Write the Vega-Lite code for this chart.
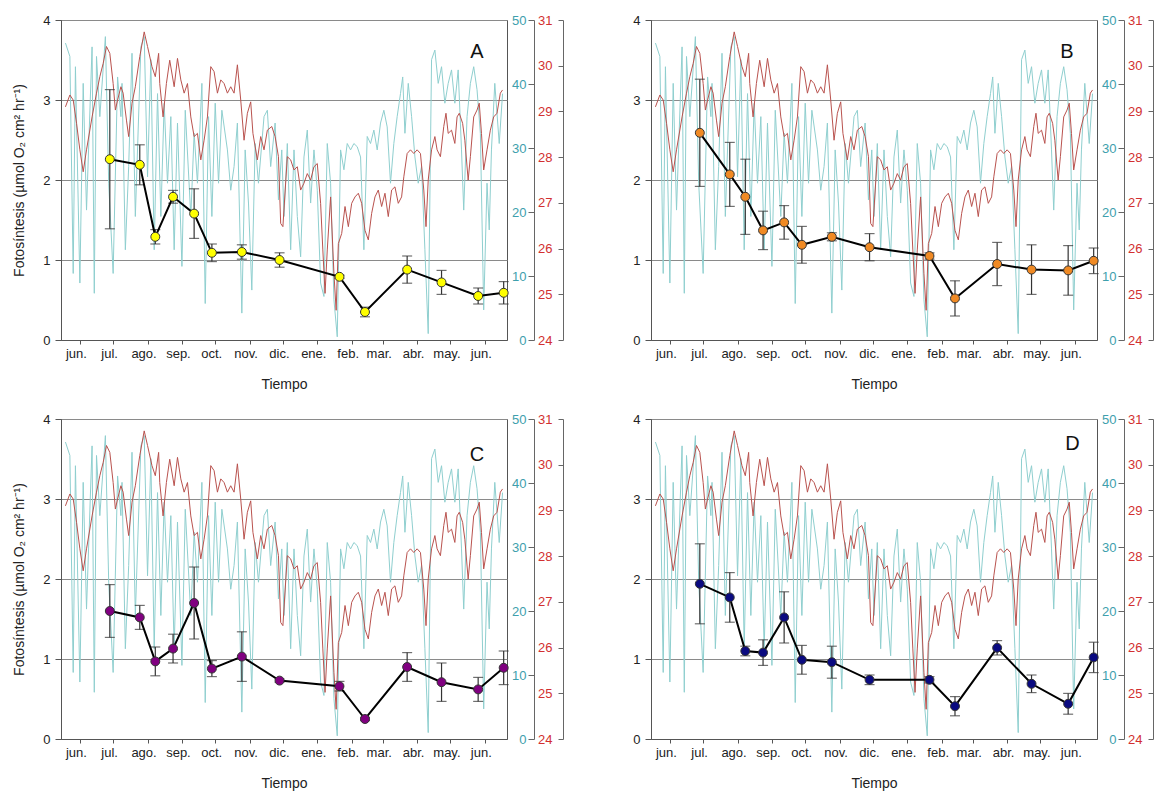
{
"$schema": "https://vega.github.io/schema/vega-lite/v6.json",
"padding": {"left": 12, "top": 13, "right": 0, "bottom": 0},
"config": {
  "font": "Liberation Sans",
  "view": {"stroke": "#555555", "strokeWidth": 1},
  "axis": {"labelFontSize": 13, "titleFontSize": 14, "titleFontWeight": "normal", "labelColor": "#222222", "titleColor": "#222222", "domainColor": "#555555", "tickColor": "#555555"}
},
"datasets": {
"luz": [
{"fecha":"2012-05-19","luz":46.4},{"fecha":"2012-05-23","luz":44.3},{"fecha":"2012-05-26","luz":10.4},{"fecha":"2012-05-28","luz":42.7},{"fecha":"2012-06-01","luz":8.9},{"fecha":"2012-06-04","luz":40.1},{"fecha":"2012-06-07","luz":20.3},{"fecha":"2012-06-12","luz":45.8},{"fecha":"2012-06-14","luz":7.3},{"fecha":"2012-06-16","luz":44.3},{"fecha":"2012-06-19","luz":34.9},{"fecha":"2012-06-24","luz":47.4},{"fecha":"2012-06-27","luz":24.5},{"fecha":"2012-07-01","luz":10.4},{"fecha":"2012-07-05","luz":41.1},{"fecha":"2012-07-08","luz":34.9},{"fecha":"2012-07-09","luz":40.1},{"fecha":"2012-07-12","luz":14.1},{"fecha":"2012-07-15","luz":27.1},{"fecha":"2012-07-18","luz":44.8},{"fecha":"2012-07-21","luz":19.3},{"fecha":"2012-07-26","luz":45.8},{"fecha":"2012-07-29","luz":47.4},{"fecha":"2012-08-01","luz":25.5},{"fecha":"2012-08-04","luz":43.8},{"fecha":"2012-08-07","luz":14.1},{"fecha":"2012-08-10","luz":38.5},{"fecha":"2012-08-13","luz":19.3},{"fecha":"2012-08-16","luz":37.0},{"fecha":"2012-08-19","luz":24.5},{"fecha":"2012-08-22","luz":34.9},{"fecha":"2012-08-25","luz":14.1},{"fecha":"2012-08-28","luz":33.9},{"fecha":"2012-09-01","luz":11.5},{"fecha":"2012-09-04","luz":35.9},{"fecha":"2012-09-09","luz":19.3},{"fecha":"2012-09-12","luz":32.3},{"fecha":"2012-09-15","luz":24.5},{"fecha":"2012-09-19","luz":40.1},{"fecha":"2012-09-22","luz":5.7},{"fecha":"2012-09-25","luz":34.9},{"fecha":"2012-09-28","luz":19.3},{"fecha":"2012-10-01","luz":37.0},{"fecha":"2012-10-04","luz":24.5},{"fecha":"2012-10-07","luz":35.9},{"fecha":"2012-10-12","luz":29.7},{"fecha":"2012-10-15","luz":23.4},{"fecha":"2012-10-18","luz":27.1},{"fecha":"2012-10-21","luz":33.9},{"fecha":"2012-10-25","luz":4.2},{"fecha":"2012-10-28","luz":29.7},{"fecha":"2012-10-31","luz":21.4},{"fecha":"2012-11-03","luz":7.8},{"fecha":"2012-11-06","luz":30.7},{"fecha":"2012-11-09","luz":24.5},{"fecha":"2012-11-14","luz":34.9},{"fecha":"2012-11-17","luz":35.9},{"fecha":"2012-11-20","luz":27.1},{"fecha":"2012-11-24","luz":33.9},{"fecha":"2012-11-27","luz":21.9},{"fecha":"2012-11-30","luz":29.7},{"fecha":"2012-12-02","luz":19.3},{"fecha":"2012-12-05","luz":30.7},{"fecha":"2012-12-08","luz":14.1},{"fecha":"2012-12-11","luz":29.7},{"fecha":"2012-12-14","luz":19.3},{"fecha":"2012-12-17","luz":13.0},{"fecha":"2012-12-20","luz":28.6},{"fecha":"2012-12-23","luz":32.8},{"fecha":"2012-12-26","luz":21.4},{"fecha":"2012-12-29","luz":29.7},{"fecha":"2013-01-01","luz":23.4},{"fecha":"2013-01-04","luz":8.9},{"fecha":"2013-01-07","luz":6.8},{"fecha":"2013-01-10","luz":30.7},{"fecha":"2013-01-13","luz":24.5},{"fecha":"2013-01-16","luz":6.3},{"fecha":"2013-01-19","luz":0.5},{"fecha":"2013-01-22","luz":29.7},{"fecha":"2013-01-25","luz":26.6},{"fecha":"2013-01-28","luz":30.7},{"fecha":"2013-01-31","luz":29.7},{"fecha":"2013-02-03","luz":30.7},{"fecha":"2013-02-06","luz":30.2},{"fecha":"2013-02-09","luz":28.6},{"fecha":"2013-02-12","luz":14.1},{"fecha":"2013-02-15","luz":31.8},{"fecha":"2013-02-18","luz":30.7},{"fecha":"2013-02-21","luz":32.8},{"fecha":"2013-02-24","luz":29.7},{"fecha":"2013-02-27","luz":33.9},{"fecha":"2013-03-02","luz":35.9},{"fecha":"2013-03-05","luz":33.3},{"fecha":"2013-03-08","luz":24.5},{"fecha":"2013-03-11","luz":30.7},{"fecha":"2013-03-14","luz":34.9},{"fecha":"2013-03-17","luz":38.5},{"fecha":"2013-03-19","luz":41.1},{"fecha":"2013-03-21","luz":32.3},{"fecha":"2013-03-24","luz":40.1},{"fecha":"2013-03-27","luz":34.9},{"fecha":"2013-03-30","luz":28.6},{"fecha":"2013-04-02","luz":24.5},{"fecha":"2013-04-05","luz":27.1},{"fecha":"2013-04-08","luz":14.1},{"fecha":"2013-04-11","luz":1.0},{"fecha":"2013-04-14","luz":43.8},{"fecha":"2013-04-17","luz":45.3},{"fecha":"2013-04-20","luz":40.1},{"fecha":"2013-04-23","luz":42.7},{"fecha":"2013-04-26","luz":37.0},{"fecha":"2013-04-29","luz":40.1},{"fecha":"2013-05-02","luz":42.2},{"fecha":"2013-05-05","luz":37.0},{"fecha":"2013-05-08","luz":42.2},{"fecha":"2013-05-11","luz":29.7},{"fecha":"2013-05-13","luz":20.3},{"fecha":"2013-05-16","luz":34.9},{"fecha":"2013-05-19","luz":40.1},{"fecha":"2013-05-22","luz":42.7},{"fecha":"2013-05-25","luz":39.1},{"fecha":"2013-05-28","luz":32.3},{"fecha":"2013-05-31","luz":4.7},{"fecha":"2013-06-03","luz":24.5},{"fecha":"2013-06-05","luz":17.2},{"fecha":"2013-06-07","luz":29.7},{"fecha":"2013-06-10","luz":40.1},{"fecha":"2013-06-14","luz":30.7},{"fecha":"2013-06-17","luz":38.5}
],
"temperatura": [
{"fecha":"2012-05-19","temperatura":29.10},{"fecha":"2012-05-23","temperatura":29.36},{"fecha":"2012-05-26","temperatura":29.25},{"fecha":"2012-05-29","temperatura":28.74},{"fecha":"2012-06-01","temperatura":28.16},{"fecha":"2012-06-04","temperatura":27.68},{"fecha":"2012-06-07","temperatura":28.16},{"fecha":"2012-06-12","temperatura":28.88},{"fecha":"2012-06-16","temperatura":29.40},{"fecha":"2012-06-19","temperatura":29.76},{"fecha":"2012-06-22","temperatura":30.05},{"fecha":"2012-06-25","temperatura":30.42},{"fecha":"2012-06-28","temperatura":30.27},{"fecha":"2012-07-01","temperatura":29.61},{"fecha":"2012-07-03","temperatura":29.03},{"fecha":"2012-07-05","temperatura":29.25},{"fecha":"2012-07-08","temperatura":29.54},{"fecha":"2012-07-10","temperatura":29.40},{"fecha":"2012-07-13","temperatura":28.81},{"fecha":"2012-07-15","temperatura":28.45},{"fecha":"2012-07-18","temperatura":29.18},{"fecha":"2012-07-21","temperatura":29.54},{"fecha":"2012-07-25","temperatura":30.20},{"fecha":"2012-07-29","temperatura":30.74},{"fecha":"2012-08-01","temperatura":30.42},{"fecha":"2012-08-05","temperatura":29.98},{"fecha":"2012-08-08","temperatura":29.76},{"fecha":"2012-08-11","temperatura":30.27},{"fecha":"2012-08-12","temperatura":29.61},{"fecha":"2012-08-15","temperatura":28.88},{"fecha":"2012-08-18","temperatura":29.61},{"fecha":"2012-08-21","temperatura":30.12},{"fecha":"2012-08-25","temperatura":29.54},{"fecha":"2012-08-28","temperatura":30.16},{"fecha":"2012-08-31","temperatura":29.69},{"fecha":"2012-09-03","temperatura":29.40},{"fecha":"2012-09-06","temperatura":29.61},{"fecha":"2012-09-09","temperatura":28.88},{"fecha":"2012-09-12","temperatura":28.45},{"fecha":"2012-09-15","temperatura":28.52},{"fecha":"2012-09-18","temperatura":27.94},{"fecha":"2012-09-21","temperatura":28.37},{"fecha":"2012-09-24","temperatura":28.88},{"fecha":"2012-09-27","temperatura":29.98},{"fecha":"2012-09-30","temperatura":29.87},{"fecha":"2012-10-03","temperatura":29.40},{"fecha":"2012-10-06","temperatura":29.69},{"fecha":"2012-10-09","temperatura":29.61},{"fecha":"2012-10-12","temperatura":29.40},{"fecha":"2012-10-15","temperatura":29.54},{"fecha":"2012-10-18","temperatura":29.40},{"fecha":"2012-10-21","temperatura":30.02},{"fecha":"2012-10-24","temperatura":29.25},{"fecha":"2012-10-27","temperatura":28.37},{"fecha":"2012-10-30","temperatura":28.96},{"fecha":"2012-11-02","temperatura":29.21},{"fecha":"2012-11-04","temperatura":28.52},{"fecha":"2012-11-08","temperatura":27.94},{"fecha":"2012-11-11","temperatura":28.45},{"fecha":"2012-11-14","temperatura":28.16},{"fecha":"2012-11-17","temperatura":28.59},{"fecha":"2012-11-21","temperatura":28.67},{"fecha":"2012-11-24","temperatura":28.45},{"fecha":"2012-11-27","temperatura":28.01},{"fecha":"2012-11-29","temperatura":26.55},{"fecha":"2012-12-01","temperatura":26.48},{"fecha":"2012-12-05","temperatura":28.01},{"fecha":"2012-12-08","temperatura":27.94},{"fecha":"2012-12-11","temperatura":27.72},{"fecha":"2012-12-14","temperatura":27.79},{"fecha":"2012-12-17","temperatura":27.28},{"fecha":"2012-12-20","temperatura":27.43},{"fecha":"2012-12-23","temperatura":27.64},{"fecha":"2012-12-26","temperatura":27.50},{"fecha":"2012-12-29","temperatura":27.79},{"fecha":"2013-01-01","temperatura":27.86},{"fecha":"2013-01-04","temperatura":26.99},{"fecha":"2013-01-06","temperatura":25.97},{"fecha":"2013-01-08","temperatura":25.02},{"fecha":"2013-01-10","temperatura":25.97},{"fecha":"2013-01-13","temperatura":27.13},{"fecha":"2013-01-16","temperatura":25.46},{"fecha":"2013-01-18","temperatura":24.65},{"fecha":"2013-01-20","temperatura":26.11},{"fecha":"2013-01-23","temperatura":26.33},{"fecha":"2013-01-26","temperatura":26.92},{"fecha":"2013-01-29","temperatura":26.48},{"fecha":"2013-02-01","temperatura":26.99},{"fecha":"2013-02-04","temperatura":27.13},{"fecha":"2013-02-07","temperatura":27.21},{"fecha":"2013-02-10","temperatura":26.99},{"fecha":"2013-02-13","temperatura":26.40},{"fecha":"2013-02-16","temperatura":26.19},{"fecha":"2013-02-19","temperatura":26.77},{"fecha":"2013-02-22","temperatura":27.13},{"fecha":"2013-02-25","temperatura":27.28},{"fecha":"2013-02-28","temperatura":26.92},{"fecha":"2013-03-03","temperatura":27.21},{"fecha":"2013-03-06","temperatura":26.70},{"fecha":"2013-03-09","temperatura":27.28},{"fecha":"2013-03-12","temperatura":27.35},{"fecha":"2013-03-15","temperatura":26.99},{"fecha":"2013-03-18","temperatura":27.13},{"fecha":"2013-03-20","temperatura":27.57},{"fecha":"2013-03-23","temperatura":28.08},{"fecha":"2013-03-26","temperatura":28.16},{"fecha":"2013-03-29","temperatura":28.08},{"fecha":"2013-04-01","temperatura":28.16},{"fecha":"2013-04-04","temperatura":28.08},{"fecha":"2013-04-07","temperatura":27.28},{"fecha":"2013-04-09","temperatura":26.48},{"fecha":"2013-04-11","temperatura":27.50},{"fecha":"2013-04-14","temperatura":28.16},{"fecha":"2013-04-17","temperatura":28.45},{"fecha":"2013-04-19","temperatura":28.16},{"fecha":"2013-04-22","temperatura":28.01},{"fecha":"2013-04-25","temperatura":28.67},{"fecha":"2013-04-27","temperatura":28.96},{"fecha":"2013-04-29","temperatura":28.52},{"fecha":"2013-05-02","temperatura":28.59},{"fecha":"2013-05-05","temperatura":28.30},{"fecha":"2013-05-07","temperatura":28.88},{"fecha":"2013-05-09","temperatura":28.96},{"fecha":"2013-05-12","temperatura":28.74},{"fecha":"2013-05-14","temperatura":28.37},{"fecha":"2013-05-17","temperatura":27.50},{"fecha":"2013-05-19","temperatura":28.01},{"fecha":"2013-05-22","temperatura":28.88},{"fecha":"2013-05-25","temperatura":29.03},{"fecha":"2013-05-27","temperatura":29.18},{"fecha":"2013-05-29","temperatura":28.52},{"fecha":"2013-05-31","temperatura":27.72},{"fecha":"2013-06-03","temperatura":28.16},{"fecha":"2013-06-06","temperatura":28.59},{"fecha":"2013-06-09","temperatura":28.88},{"fecha":"2013-06-12","temperatura":28.96},{"fecha":"2013-06-15","temperatura":29.40},{"fecha":"2013-06-17","temperatura":29.47}
],
"fotosintesis": [
{"panel":"A","fecha":"2012-06-28","media":2.26,"de":0.87},{"panel":"A","fecha":"2012-07-25","media":2.19,"de":0.25},{"panel":"A","fecha":"2012-08-08","media":1.29,"de":0.09},{"panel":"A","fecha":"2012-08-24","media":1.79,"de":0.08},{"panel":"A","fecha":"2012-09-12","media":1.58,"de":0.31},{"panel":"A","fecha":"2012-09-28","media":1.09,"de":0.11},{"panel":"A","fecha":"2012-10-25","media":1.10,"de":0.09},{"panel":"A","fecha":"2012-11-28","media":1.00,"de":0.09},{"panel":"A","fecha":"2013-01-21","media":0.79,"de":0.02},{"panel":"A","fecha":"2013-02-13","media":0.35,"de":0.06},{"panel":"A","fecha":"2013-03-23","media":0.88,"de":0.17},{"panel":"A","fecha":"2013-04-23","media":0.72,"de":0.15},{"panel":"A","fecha":"2013-05-26","media":0.55,"de":0.10},{"panel":"A","fecha":"2013-06-18","media":0.59,"de":0.14},
{"panel":"B","fecha":"2012-06-28","media":2.59,"de":0.67},{"panel":"B","fecha":"2012-07-25","media":2.07,"de":0.40},{"panel":"B","fecha":"2012-08-08","media":1.79,"de":0.47},{"panel":"B","fecha":"2012-08-24","media":1.37,"de":0.24},{"panel":"B","fecha":"2012-09-12","media":1.47,"de":0.21},{"panel":"B","fecha":"2012-09-28","media":1.19,"de":0.23},{"panel":"B","fecha":"2012-10-25","media":1.29,"de":0.05},{"panel":"B","fecha":"2012-11-28","media":1.16,"de":0.17},{"panel":"B","fecha":"2013-01-21","media":1.05,"de":0.04},{"panel":"B","fecha":"2013-02-13","media":0.52,"de":0.22},{"panel":"B","fecha":"2013-03-23","media":0.95,"de":0.27},{"panel":"B","fecha":"2013-04-23","media":0.88,"de":0.31},{"panel":"B","fecha":"2013-05-26","media":0.87,"de":0.31},{"panel":"B","fecha":"2013-06-18","media":0.99,"de":0.16},
{"panel":"C","fecha":"2012-06-28","media":1.60,"de":0.33},{"panel":"C","fecha":"2012-07-25","media":1.52,"de":0.15},{"panel":"C","fecha":"2012-08-08","media":0.97,"de":0.18},{"panel":"C","fecha":"2012-08-24","media":1.13,"de":0.18},{"panel":"C","fecha":"2012-09-12","media":1.70,"de":0.45},{"panel":"C","fecha":"2012-09-28","media":0.88,"de":0.10},{"panel":"C","fecha":"2012-10-25","media":1.03,"de":0.31},{"panel":"C","fecha":"2012-11-28","media":0.73,"de":0.02},{"panel":"C","fecha":"2013-01-21","media":0.66,"de":0.06},{"panel":"C","fecha":"2013-02-13","media":0.25,"de":0.02},{"panel":"C","fecha":"2013-03-23","media":0.90,"de":0.18},{"panel":"C","fecha":"2013-04-23","media":0.71,"de":0.24},{"panel":"C","fecha":"2013-05-26","media":0.62,"de":0.15},{"panel":"C","fecha":"2013-06-18","media":0.89,"de":0.21},
{"panel":"D","fecha":"2012-06-28","media":1.94,"de":0.50},{"panel":"D","fecha":"2012-07-25","media":1.77,"de":0.31},{"panel":"D","fecha":"2012-08-08","media":1.10,"de":0.06},{"panel":"D","fecha":"2012-08-24","media":1.08,"de":0.16},{"panel":"D","fecha":"2012-09-12","media":1.52,"de":0.32},{"panel":"D","fecha":"2012-09-28","media":0.99,"de":0.18},{"panel":"D","fecha":"2012-10-25","media":0.96,"de":0.20},{"panel":"D","fecha":"2012-11-28","media":0.74,"de":0.06},{"panel":"D","fecha":"2013-01-21","media":0.74,"de":0.04},{"panel":"D","fecha":"2013-02-13","media":0.41,"de":0.12},{"panel":"D","fecha":"2013-03-23","media":1.14,"de":0.09},{"panel":"D","fecha":"2013-04-23","media":0.69,"de":0.11},{"panel":"D","fecha":"2013-05-26","media":0.44,"de":0.13},{"panel":"D","fecha":"2013-06-18","media":1.02,"de":0.19}
]
},
"columns": 2,
"spacing": {"row": 79, "column": 144},
"bounds": "flush",
"concat": [
{
 "width": 446, "height": 320,
 "resolve": {"scale": {"y": "independent"}, "axis": {"y": "independent"}},
 "layer": [
  {"data": {"name": "luz"}, "mark": {"type": "line", "color": "#8fcfcf", "strokeWidth": 1},
   "encoding": {
    "x": {"field": "fecha", "type": "temporal", "scale": {"domain": ["2012-05-15", "2013-06-21"]},
          "axis": {"title": "Tiempo", "tickCount": {"interval": "month", "step": 1}, "labelExpr": "['ene.','feb.','mar.','abr.','may.','jun.','jul.','ago.','sep.','oct.','nov.','dic.'][month(datum.value)]", "tickSize": 4, "labelPadding": 3, "labelOffset": -4, "titlePadding": 17, "grid": false, "labelOverlap": false, "labelFlush": false}},
    "y": {"field": "luz", "type": "quantitative", "scale": {"domain": [0, 50]},
          "axis": {"orient": "right", "offset": 27, "values": [0, 10, 20, 30, 40, 50], "tickSize": -6, "labelPadding": -2, "labelAlign": "right", "labelColor": "#3ea0ad", "title": null, "grid": false, "domainColor": "#666666", "tickColor": "#666666"}}}},
  {"data": {"name": "temperatura"}, "mark": {"type": "line", "color": "#b9524e", "strokeWidth": 1},
   "encoding": {
    "x": {"field": "fecha", "type": "temporal", "scale": {"domain": ["2012-05-15", "2013-06-21"]}},
    "y": {"field": "temperatura", "type": "quantitative", "scale": {"domain": [24, 31]},
          "axis": {"orient": "right", "offset": 56, "values": [24, 25, 26, 27, 28, 29, 30, 31], "tickSize": -5, "labelPadding": -6, "labelAlign": "right", "labelColor": "#d23030", "title": null, "grid": false, "domainColor": "#666666", "tickColor": "#666666"}}}},
  {"data": {"name": "fotosintesis"}, "transform": [{"filter": "datum.panel === 'A'"}],
   "encoding": {"x": {"field": "fecha", "type": "temporal", "scale": {"domain": ["2012-05-15", "2013-06-21"]}}},
   "layer": [
    {"mark": {"type": "errorbar", "ticks": true, "size": 10, "thickness": 1.2, "color": "#333333"},
     "encoding": {"y": {"field": "media", "type": "quantitative", "scale": {"domain": [0, 4]}, "axis": {"title": "Fotosíntesis (µmol O₂ cm² hr⁻¹)", "values": [0, 1, 2, 3, 4], "format": "d", "grid": true, "gridColor": "#8a8a8a", "tickSize": 6, "labelPadding": 5, "titlePadding": 16}}, "yError": {"field": "de"}}},
    {"mark": {"type": "line", "color": "#000000", "strokeWidth": 2},
     "encoding": {"y": {"field": "media", "type": "quantitative"}}},
    {"mark": {"type": "point", "shape": "circle", "filled": true, "size": 80, "fill": "#ffff00", "stroke": "#333333", "strokeWidth": 1, "opacity": 1},
     "encoding": {"y": {"field": "media", "type": "quantitative"}}}
   ]},
  {"data": {"values": [{"panel": "A"}]},
   "mark": {"type": "text", "fontSize": 20, "color": "#111111"},
   "encoding": {"x": {"datum": {"year": 2013, "month": "may", "date": 25}, "type": "temporal"}, "y": {"datum": 3.6, "type": "quantitative", "scale": {"domain": [0, 4]}, "axis": null}, "text": {"field": "panel"}}}
 ]
},
{
 "width": 446, "height": 320,
 "resolve": {"scale": {"y": "independent"}, "axis": {"y": "independent"}},
 "layer": [
  {"data": {"name": "luz"}, "mark": {"type": "line", "color": "#8fcfcf", "strokeWidth": 1},
   "encoding": {
    "x": {"field": "fecha", "type": "temporal", "scale": {"domain": ["2012-05-15", "2013-06-21"]},
          "axis": {"title": "Tiempo", "tickCount": {"interval": "month", "step": 1}, "labelExpr": "['ene.','feb.','mar.','abr.','may.','jun.','jul.','ago.','sep.','oct.','nov.','dic.'][month(datum.value)]", "tickSize": 4, "labelPadding": 3, "labelOffset": -4, "titlePadding": 17, "grid": false, "labelOverlap": false, "labelFlush": false}},
    "y": {"field": "luz", "type": "quantitative", "scale": {"domain": [0, 50]},
          "axis": {"orient": "right", "offset": 27, "values": [0, 10, 20, 30, 40, 50], "tickSize": -6, "labelPadding": -2, "labelAlign": "right", "labelColor": "#3ea0ad", "title": null, "grid": false, "domainColor": "#666666", "tickColor": "#666666"}}}},
  {"data": {"name": "temperatura"}, "mark": {"type": "line", "color": "#b9524e", "strokeWidth": 1},
   "encoding": {
    "x": {"field": "fecha", "type": "temporal", "scale": {"domain": ["2012-05-15", "2013-06-21"]}},
    "y": {"field": "temperatura", "type": "quantitative", "scale": {"domain": [24, 31]},
          "axis": {"orient": "right", "offset": 56, "values": [24, 25, 26, 27, 28, 29, 30, 31], "tickSize": -5, "labelPadding": -6, "labelAlign": "right", "labelColor": "#d23030", "title": null, "grid": false, "domainColor": "#666666", "tickColor": "#666666"}}}},
  {"data": {"name": "fotosintesis"}, "transform": [{"filter": "datum.panel === 'B'"}],
   "encoding": {"x": {"field": "fecha", "type": "temporal", "scale": {"domain": ["2012-05-15", "2013-06-21"]}}},
   "layer": [
    {"mark": {"type": "errorbar", "ticks": true, "size": 10, "thickness": 1.2, "color": "#333333"},
     "encoding": {"y": {"field": "media", "type": "quantitative", "scale": {"domain": [0, 4]}, "axis": {"title": null, "values": [0, 1, 2, 3, 4], "format": "d", "grid": true, "gridColor": "#8a8a8a", "tickSize": 6, "labelPadding": 5}}, "yError": {"field": "de"}}},
    {"mark": {"type": "line", "color": "#000000", "strokeWidth": 2},
     "encoding": {"y": {"field": "media", "type": "quantitative"}}},
    {"mark": {"type": "point", "shape": "circle", "filled": true, "size": 80, "fill": "#f08a24", "stroke": "#333333", "strokeWidth": 1, "opacity": 1},
     "encoding": {"y": {"field": "media", "type": "quantitative"}}}
   ]},
  {"data": {"values": [{"panel": "B"}]},
   "mark": {"type": "text", "fontSize": 20, "color": "#111111"},
   "encoding": {"x": {"datum": {"year": 2013, "month": "may", "date": 25}, "type": "temporal"}, "y": {"datum": 3.6, "type": "quantitative", "scale": {"domain": [0, 4]}, "axis": null}, "text": {"field": "panel"}}}
 ]
},
{
 "width": 446, "height": 320,
 "resolve": {"scale": {"y": "independent"}, "axis": {"y": "independent"}},
 "layer": [
  {"data": {"name": "luz"}, "mark": {"type": "line", "color": "#8fcfcf", "strokeWidth": 1},
   "encoding": {
    "x": {"field": "fecha", "type": "temporal", "scale": {"domain": ["2012-05-15", "2013-06-21"]},
          "axis": {"title": "Tiempo", "tickCount": {"interval": "month", "step": 1}, "labelExpr": "['ene.','feb.','mar.','abr.','may.','jun.','jul.','ago.','sep.','oct.','nov.','dic.'][month(datum.value)]", "tickSize": 4, "labelPadding": 3, "labelOffset": -4, "titlePadding": 17, "grid": false, "labelOverlap": false, "labelFlush": false}},
    "y": {"field": "luz", "type": "quantitative", "scale": {"domain": [0, 50]},
          "axis": {"orient": "right", "offset": 27, "values": [0, 10, 20, 30, 40, 50], "tickSize": -6, "labelPadding": -2, "labelAlign": "right", "labelColor": "#3ea0ad", "title": null, "grid": false, "domainColor": "#666666", "tickColor": "#666666"}}}},
  {"data": {"name": "temperatura"}, "mark": {"type": "line", "color": "#b9524e", "strokeWidth": 1},
   "encoding": {
    "x": {"field": "fecha", "type": "temporal", "scale": {"domain": ["2012-05-15", "2013-06-21"]}},
    "y": {"field": "temperatura", "type": "quantitative", "scale": {"domain": [24, 31]},
          "axis": {"orient": "right", "offset": 56, "values": [24, 25, 26, 27, 28, 29, 30, 31], "tickSize": -5, "labelPadding": -6, "labelAlign": "right", "labelColor": "#d23030", "title": null, "grid": false, "domainColor": "#666666", "tickColor": "#666666"}}}},
  {"data": {"name": "fotosintesis"}, "transform": [{"filter": "datum.panel === 'C'"}],
   "encoding": {"x": {"field": "fecha", "type": "temporal", "scale": {"domain": ["2012-05-15", "2013-06-21"]}}},
   "layer": [
    {"mark": {"type": "errorbar", "ticks": true, "size": 10, "thickness": 1.2, "color": "#333333"},
     "encoding": {"y": {"field": "media", "type": "quantitative", "scale": {"domain": [0, 4]}, "axis": {"title": "Fotosíntesis (µmol O₂ cm² hr⁻¹)", "values": [0, 1, 2, 3, 4], "format": "d", "grid": true, "gridColor": "#8a8a8a", "tickSize": 6, "labelPadding": 5, "titlePadding": 16}}, "yError": {"field": "de"}}},
    {"mark": {"type": "line", "color": "#000000", "strokeWidth": 2},
     "encoding": {"y": {"field": "media", "type": "quantitative"}}},
    {"mark": {"type": "point", "shape": "circle", "filled": true, "size": 80, "fill": "#800080", "stroke": "#333333", "strokeWidth": 1, "opacity": 1},
     "encoding": {"y": {"field": "media", "type": "quantitative"}}}
   ]},
  {"data": {"values": [{"panel": "C"}]},
   "mark": {"type": "text", "fontSize": 20, "color": "#111111"},
   "encoding": {"x": {"datum": {"year": 2013, "month": "may", "date": 25}, "type": "temporal"}, "y": {"datum": 3.55, "type": "quantitative", "scale": {"domain": [0, 4]}, "axis": null}, "text": {"field": "panel"}}}
 ]
},
{
 "width": 446, "height": 320,
 "resolve": {"scale": {"y": "independent"}, "axis": {"y": "independent"}},
 "layer": [
  {"data": {"name": "luz"}, "mark": {"type": "line", "color": "#8fcfcf", "strokeWidth": 1},
   "encoding": {
    "x": {"field": "fecha", "type": "temporal", "scale": {"domain": ["2012-05-15", "2013-06-21"]},
          "axis": {"title": "Tiempo", "tickCount": {"interval": "month", "step": 1}, "labelExpr": "['ene.','feb.','mar.','abr.','may.','jun.','jul.','ago.','sep.','oct.','nov.','dic.'][month(datum.value)]", "tickSize": 4, "labelPadding": 3, "labelOffset": -4, "titlePadding": 17, "grid": false, "labelOverlap": false, "labelFlush": false}},
    "y": {"field": "luz", "type": "quantitative", "scale": {"domain": [0, 50]},
          "axis": {"orient": "right", "offset": 27, "values": [0, 10, 20, 30, 40, 50], "tickSize": -6, "labelPadding": -2, "labelAlign": "right", "labelColor": "#3ea0ad", "title": null, "grid": false, "domainColor": "#666666", "tickColor": "#666666"}}}},
  {"data": {"name": "temperatura"}, "mark": {"type": "line", "color": "#b9524e", "strokeWidth": 1},
   "encoding": {
    "x": {"field": "fecha", "type": "temporal", "scale": {"domain": ["2012-05-15", "2013-06-21"]}},
    "y": {"field": "temperatura", "type": "quantitative", "scale": {"domain": [24, 31]},
          "axis": {"orient": "right", "offset": 56, "values": [24, 25, 26, 27, 28, 29, 30, 31], "tickSize": -5, "labelPadding": -6, "labelAlign": "right", "labelColor": "#d23030", "title": null, "grid": false, "domainColor": "#666666", "tickColor": "#666666"}}}},
  {"data": {"name": "fotosintesis"}, "transform": [{"filter": "datum.panel === 'D'"}],
   "encoding": {"x": {"field": "fecha", "type": "temporal", "scale": {"domain": ["2012-05-15", "2013-06-21"]}}},
   "layer": [
    {"mark": {"type": "errorbar", "ticks": true, "size": 10, "thickness": 1.2, "color": "#333333"},
     "encoding": {"y": {"field": "media", "type": "quantitative", "scale": {"domain": [0, 4]}, "axis": {"title": null, "values": [0, 1, 2, 3, 4], "format": "d", "grid": true, "gridColor": "#8a8a8a", "tickSize": 6, "labelPadding": 5}}, "yError": {"field": "de"}}},
    {"mark": {"type": "line", "color": "#000000", "strokeWidth": 2},
     "encoding": {"y": {"field": "media", "type": "quantitative"}}},
    {"mark": {"type": "point", "shape": "circle", "filled": true, "size": 80, "fill": "#0a0a80", "stroke": "#333333", "strokeWidth": 1, "opacity": 1},
     "encoding": {"y": {"field": "media", "type": "quantitative"}}}
   ]},
  {"data": {"values": [{"panel": "D"}]},
   "mark": {"type": "text", "fontSize": 20, "color": "#111111"},
   "encoding": {"x": {"datum": {"year": 2013, "month": "may", "date": 30}, "type": "temporal"}, "y": {"datum": 3.69, "type": "quantitative", "scale": {"domain": [0, 4]}, "axis": null}, "text": {"field": "panel"}}}
 ]
}
]
}
